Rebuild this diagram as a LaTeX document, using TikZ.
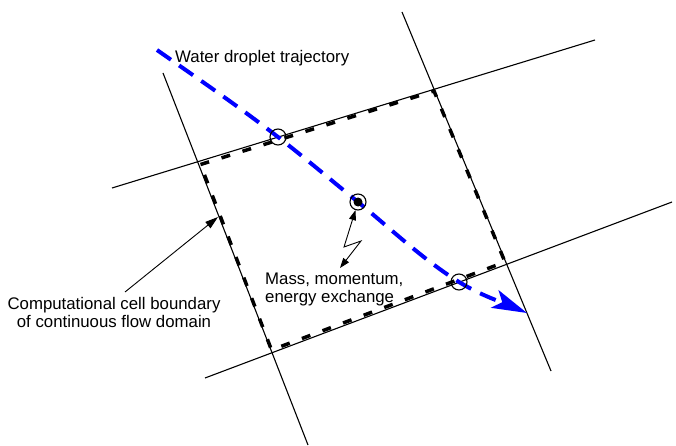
\documentclass[tikz,border=0pt]{standalone}
\usepackage{fontspec}
\setmainfont{Liberation Sans}
\usetikzlibrary{arrows.meta}

\begin{document}
\begin{tikzpicture}[
  x=1pt, y=-1pt,
  gridln/.style={line width=1.1pt},
  cellbd/.style={line width=3.5pt, dash pattern=on 9pt off 13pt},
  traj/.style={blue, line width=4pt, dash pattern=on 17pt off 10pt, -{Stealth[length=35pt,width=19pt,inset=8pt]}},
  ring/.style={circle, draw, line width=1.1pt, minimum size=16pt, inner sep=0pt},
  hub/.style={circle, fill, minimum size=9pt, inner sep=0pt},
  lbl/.style={font=\fontsize{16.8}{18}\selectfont, inner sep=0pt, align=center},
  ptr/.style={line width=0.9pt, -{Triangle[length=13pt,width=8pt]}},
  zap/.style={line width=0.9pt, {Triangle[length=10pt,width=7pt]}-{Triangle[length=10pt,width=7pt]}}
]
\useasboundingbox (0,0) rectangle (676,446);

% mesh lines
\draw[gridln] (112,188) -- (595,40);
\draw[gridln] (205,378) -- (672,202);
\draw[gridln] (163,73) -- (308,445);
\draw[gridln] (402,12) -- (551,371);

% cell boundary
\draw[cellbd] (200.5,164.5) -- (434,91) -- (505,262) -- (271.5,350) -- cycle;

% droplet path
\coordinate (trStart) at (157,50);
\coordinate (pIn) at (278,137);
\coordinate (pMid) at (358,202);
\coordinate (pOut) at (459,282);
\coordinate (trEnd) at (527,313);
\draw[traj] (trStart) .. controls (197,78) and (238,106) .. (pIn)
  .. controls (305,158) and (331,180) .. (pMid)
  .. controls (392,230) and (425,261) .. (pOut)
  .. controls (482,296) and (504,303) .. (trEnd);

% crossing points
\node[ring] (xin) at (pIn) {};
\node[ring] (xmid) at (pMid) {};
\node[hub] (xdot) at (pMid) {};
\node[ring] (xout) at (pOut) {};

% labels
\node[lbl, anchor=base west] (trajLbl) at (175,63) {Water droplet trajectory};
\node[lbl, anchor=north west, align=left] (exchLbl) at (265,273) {Mass, momentum,\\energy exchange};
\node[lbl, anchor=north] (cellLbl) at (114,297) {Computational cell boundary\\of continuous flow domain};

\coordinate (bndTip) at (218,217);
\coordinate (zigA) at (344,247);
\coordinate (zigB) at (361,241);

\draw[ptr] ([xshift=11pt,yshift=5pt]cellLbl.north) -- (bndTip);
\draw[zap] (xmid) -- (zigA) -- (zigB) -- ([xshift=75pt,yshift=5pt]exchLbl.north west);
\end{tikzpicture}
\end{document}
